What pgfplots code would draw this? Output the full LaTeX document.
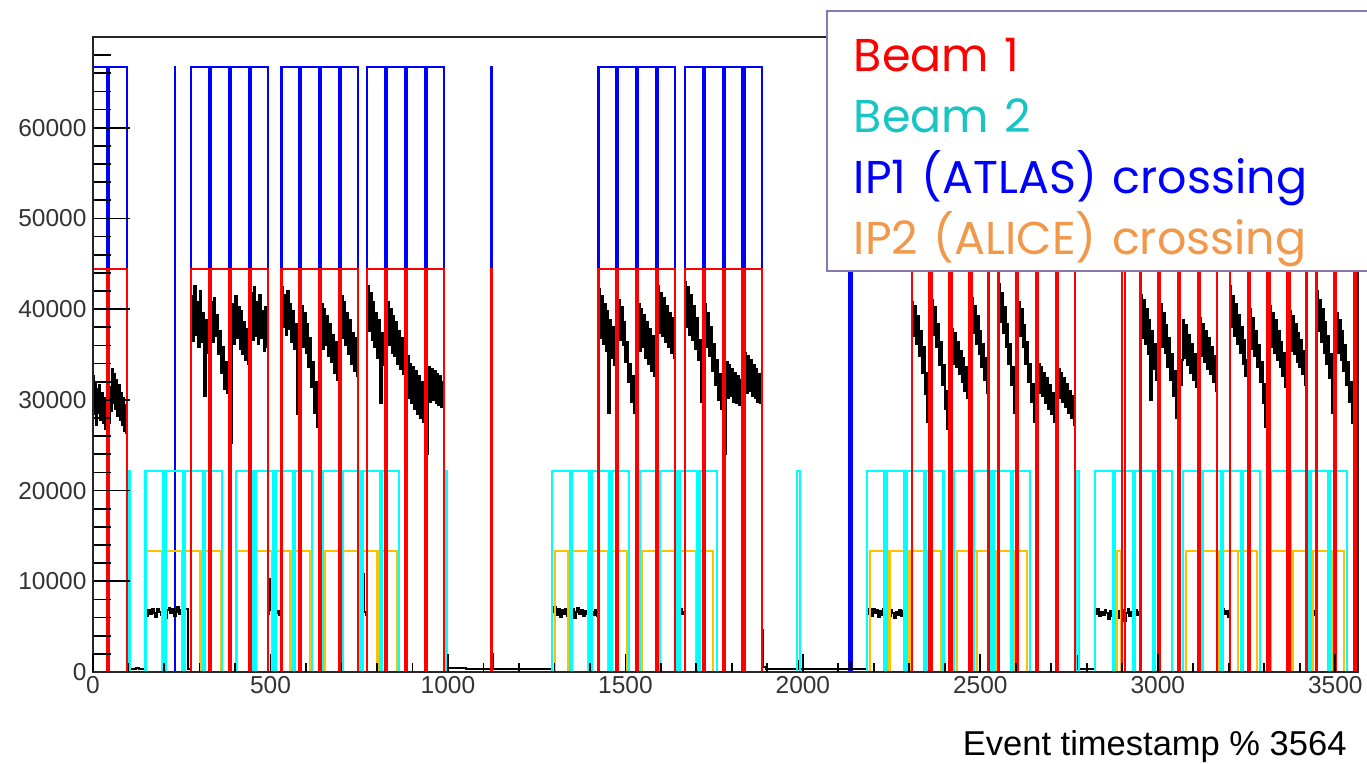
\documentclass[border=0pt]{standalone}
\usepackage{pgfplots}
\pgfplotsset{compat=1.18}
\usepackage{pgfplotstable}
\usepackage{fontspec}
\setmainfont{Liberation Sans}
\newfontfamily\legendfont{Poppins}

\definecolor{beamone}{RGB}{255,0,0}
\definecolor{beamtwo}{RGB}{0,255,255}
\definecolor{ipone}{RGB}{0,0,255}
\definecolor{iptwo}{RGB}{255,192,0}
\definecolor{beamtwotext}{RGB}{24,196,196}
\definecolor{iptwotext}{RGB}{242,152,74}
\definecolor{legendframe}{RGB}{137,120,178}
\definecolor{ticktext}{RGB}{51,51,51}

% Filling patterns (values in thousands; each row starts a constant step)
\pgfplotstableread[row sep=\\]{x y\\
0 44.45\\ 40 0\\ 46 44.45\\ 96 0\\
277 44.45\\ 327 0\\ 333 44.45\\ 383 0\\ 389 44.45\\ 439 0\\ 445 44.45\\ 493 0\\
531 44.45\\ 581 0\\ 587 44.45\\ 637 0\\ 643 44.45\\ 693 0\\ 699 44.45\\ 747 0\\
773 44.45\\ 823 0\\ 829 44.45\\ 879 0\\ 885 44.45\\ 935 0\\ 941 44.45\\ 989 0\\
1122 44.45\\ 1123 0\\
1424 44.45\\ 1474 0\\ 1480 44.45\\ 1530 0\\ 1536 44.45\\ 1586 0\\ 1592 44.45\\ 1640 0\\
1668 44.45\\ 1718 0\\ 1724 44.45\\ 1774 0\\ 1780 44.45\\ 1830 0\\ 1836 44.45\\ 1884 0\\
2307 44.45\\ 2357 0\\ 2363 44.45\\ 2413 0\\ 2419 44.45\\ 2469 0\\ 2475 44.45\\ 2523 0\\
2551 44.45\\ 2601 0\\ 2607 44.45\\ 2657 0\\ 2663 44.45\\ 2713 0\\ 2719 44.45\\ 2767 0\\
2899 44.45\\ 2907 0\\
2951 44.45\\ 3001 0\\ 3007 44.45\\ 3057 0\\ 3063 44.45\\ 3113 0\\ 3119 44.45\\ 3167 0\\
3203 44.45\\ 3253 0\\ 3259 44.45\\ 3309 0\\ 3315 44.45\\ 3365 0\\ 3371 44.45\\ 3419 0\\
3447 44.45\\ 3497 0\\ 3503 44.45\\ 3553 0\\ 3559 44.45\\ 3564 44.45\\
}\beamonetab

\pgfplotstableread[row sep=\\]{x y\\
0 66.7\\ 40 0\\ 46 66.7\\ 96 0\\ 231 66.7\\ 232 0\\
277 66.7\\ 327 0\\ 333 66.7\\ 383 0\\ 389 66.7\\ 439 0\\ 445 66.7\\ 493 0\\
531 66.7\\ 581 0\\ 587 66.7\\ 637 0\\ 643 66.7\\ 693 0\\ 699 66.7\\ 747 0\\
773 66.7\\ 823 0\\ 829 66.7\\ 879 0\\ 885 66.7\\ 935 0\\ 941 66.7\\ 989 0\\
1122 66.7\\ 1123 0\\
1424 66.7\\ 1474 0\\ 1480 66.7\\ 1530 0\\ 1536 66.7\\ 1586 0\\ 1592 66.7\\ 1640 0\\
1668 66.7\\ 1718 0\\ 1724 66.7\\ 1774 0\\ 1780 66.7\\ 1830 0\\ 1836 66.7\\ 1884 0\\
2130 66.7\\ 2137 0\\ 3564 0\\
}\iponetab

\pgfplotstableread[row sep=\\]{x y\\
0 0\\ 103 22.2\\ 104 0\\
148 22.2\\ 198 0\\ 204 22.2\\ 254 0\\ 260 22.2\\ 310 0\\ 316 22.2\\ 364 0\\
402 22.2\\ 452 0\\ 458 22.2\\ 508 0\\ 514 22.2\\ 564 0\\ 570 22.2\\ 618 0\\
647 22.2\\ 697 0\\ 703 22.2\\ 753 0\\ 759 22.2\\ 809 0\\ 815 22.2\\ 863 0\\
996 22.2\\ 997 0\\
1293 22.2\\ 1343 0\\ 1349 22.2\\ 1399 0\\ 1405 22.2\\ 1455 0\\ 1461 22.2\\ 1509 0\\
1541 22.2\\ 1591 0\\ 1597 22.2\\ 1647 0\\ 1653 22.2\\ 1703 0\\ 1709 22.2\\ 1757 0\\
1984 22.2\\ 1992 0\\
2180 22.2\\ 2230 0\\ 2236 22.2\\ 2286 0\\ 2292 22.2\\ 2342 0\\ 2348 22.2\\ 2396 0\\
2425 22.2\\ 2475 0\\ 2481 22.2\\ 2531 0\\ 2537 22.2\\ 2587 0\\ 2593 22.2\\ 2641 0\\
2770 22.2\\ 2778 0\\
2824 22.2\\ 2874 0\\ 2880 22.2\\ 2930 0\\ 2936 22.2\\ 2986 0\\ 2992 22.2\\ 3040 0\\
3072 22.2\\ 3122 0\\ 3128 22.2\\ 3178 0\\ 3184 22.2\\ 3234 0\\ 3240 22.2\\ 3288 0\\
3318 22.2\\ 3368 0\\ 3374 22.2\\ 3424 0\\ 3430 22.2\\ 3480 0\\ 3486 22.2\\ 3534 0\\
3564 0\\
}\beamtwotab

\pgfplotstableread[row sep=\\]{x y\\
0 0\\
150 13.3\\ 194 0\\ 195 13.3\\ 250 0\\ 251 13.3\\ 302 0\\ 303 13.3\\ 362 0\\
405 13.3\\ 448 0\\ 449 13.3\\ 504 0\\ 505 13.3\\ 556 0\\ 557 13.3\\ 612 0\\
654 13.3\\ 695 0\\ 696 13.3\\ 751 0\\ 752 13.3\\ 801 0\\ 802 13.3\\ 856 0\\
1301 13.3\\ 1339 0\\ 1340 13.3\\ 1396 0\\ 1397 13.3\\ 1451 0\\ 1452 13.3\\ 1505 0\\
1546 13.3\\ 1588 0\\ 1589 13.3\\ 1644 0\\ 1645 13.3\\ 1700 0\\ 1701 13.3\\ 1748 0\\
2189 13.3\\ 2244 0\\ 2245 13.3\\ 2300 0\\ 2301 13.3\\ 2352 0\\ 2353 13.3\\ 2390 0\\
2435 13.3\\ 2490 0\\ 2491 13.3\\ 2542 0\\ 2543 13.3\\ 2595 0\\ 2596 13.3\\ 2632 0\\
2886 13.3\\ 2897 0\\
3078 13.3\\ 3120 0\\ 3121 13.3\\ 3172 0\\ 3173 13.3\\ 3226 0\\ 3227 13.3\\ 3280 0\\
3320 13.3\\ 3380 0\\ 3381 13.3\\ 3435 0\\ 3436 13.3\\ 3492 0\\ 3493 13.3\\ 3524 0\\
3564 0\\
}\iptwotab

% Measured event counts per bunch slot (thousands)
\pgfplotstableread[row sep=\\]{x y\\
0 32.6\\ 3 28.4\\ 6 31.8\\ 9 27.2\\ 12 31.2\\ 15 28.6\\ 18 31.6\\ 21 27.8\\ 24 30.8\\ 27 27.4\\
30 30.2\\ 33 26.8\\ 36 29.4\\ 39 25.8\\ 42 24.6\\ 45 27.4\\ 48 31.4\\ 51 28.8\\ 54 33.4\\ 57 29.6\\
60 32.8\\ 63 29.0\\ 66 32.2\\ 69 28.2\\ 72 31.6\\ 75 27.8\\ 78 30.8\\ 81 27.2\\ 84 30.2\\ 87 26.6\\
90 29.4\\ 93 26.4\\ 96 0.3\\ 120 0.4\\ 130 0.3\\
150 6.2\\ 156 6.8\\ 161 6.4\\ 166 7.0\\ 171 6.5\\ 176 6.1\\ 181 6.9\\ 186 6.6\\ 191 6.3\\ 196 6.7\\
203 6.0\\ 208 6.8\\ 213 7.1\\ 218 6.5\\ 223 6.9\\ 228 6.2\\ 233 6.6\\ 238 7.2\\ 243 6.4\\ 248 6.8\\
253 5.9\\ 258 6.9\\ 263 7.0\\ 268 0.3\\
277 41.5\\ 281 36.5\\ 285 42.6\\ 289 37.2\\ 293 40.8\\ 297 35.8\\ 301 42.0\\ 305 36.4\\ 309 39.6\\ 313 30.4\\
317 38.8\\ 321 35.2\\ 325 37.0\\ 329 29.0\\
333 40.8\\ 337 36.4\\ 341 41.2\\ 345 37.0\\ 349 39.4\\ 353 35.0\\ 357 37.6\\ 361 33.0\\ 365 35.8\\ 369 31.2\\
373 34.2\\ 377 30.8\\ 381 33.0\\ 385 26.0\\
389 25.2\\ 393 40.6\\ 397 36.2\\ 401 41.4\\ 405 36.8\\ 409 40.2\\ 413 35.6\\ 417 39.8\\ 421 35.0\\ 425 38.6\\
429 34.4\\ 433 37.8\\ 437 34.0\\ 441 28.0\\
445 41.8\\ 449 36.6\\ 453 42.4\\ 457 37.0\\ 461 40.8\\ 465 36.2\\ 469 41.6\\ 473 36.8\\ 477 39.8\\ 481 35.4\\
485 40.2\\ 489 35.8\\
493 6.4\\ 497 10.2\\ 500 6.8\\ 505 6.2\\ 510 6.9\\ 515 6.5\\ 520 6.7\\ 525 6.3\\
531 42.4\\ 535 38.0\\ 539 41.6\\ 543 37.2\\ 547 42.0\\ 551 37.8\\ 555 40.6\\ 559 36.4\\ 563 39.8\\ 567 35.6\\
571 38.4\\ 575 28.4\\ 579 36.0\\ 583 27.6\\
587 40.4\\ 591 35.8\\ 595 39.6\\ 599 35.2\\ 603 38.4\\ 607 33.6\\ 611 36.8\\ 615 31.4\\ 619 34.2\\ 623 28.6\\
627 32.0\\ 631 27.0\\ 635 29.6\\ 639 24.0\\
643 40.6\\ 647 35.6\\ 651 40.0\\ 655 36.0\\ 659 39.2\\ 663 34.8\\ 667 38.4\\ 671 34.2\\ 675 37.2\\ 679 33.0\\
683 36.4\\ 687 32.2\\ 691 34.6\\ 695 26.0\\
699 41.4\\ 703 36.8\\ 707 40.8\\ 711 36.0\\ 715 39.6\\ 719 35.0\\ 723 38.8\\ 727 34.0\\ 731 37.4\\ 735 33.2\\
739 36.8\\ 743 32.6\\
747 6.4\\ 752 6.9\\ 757 6.2\\ 762 10.8\\ 764 6.6\\ 769 6.3\\
773 42.6\\ 777 37.6\\ 781 41.8\\ 785 36.6\\ 789 40.8\\ 793 35.8\\ 797 39.6\\ 801 34.6\\ 805 38.8\\ 809 29.6\\
813 37.4\\ 817 33.8\\ 821 36.0\\ 825 28.0\\
829 40.8\\ 833 36.0\\ 837 40.0\\ 841 35.2\\ 845 39.2\\ 849 34.8\\ 853 38.6\\ 857 34.0\\ 861 37.6\\ 865 33.4\\
869 36.8\\ 873 32.8\\ 877 35.0\\ 881 26.0\\
885 34.8\\ 889 30.2\\ 893 34.0\\ 897 29.6\\ 901 33.6\\ 905 29.0\\ 909 33.2\\ 913 28.4\\ 917 32.6\\ 921 28.0\\
925 32.0\\ 929 27.6\\ 933 30.6\\ 937 24.0\\
941 24.0\\ 945 33.6\\ 949 29.8\\ 953 33.4\\ 957 30.0\\ 961 33.2\\ 965 29.6\\ 969 32.8\\ 973 29.4\\ 977 32.6\\
981 29.2\\ 985 32.0\\
989 0.5\\ 992 2.2\\ 995 0.4\\ 1050 0.3\\ 1123 2.0\\ 1126 0.3\\ 1200 0.35\\ 1260 0.3\\
1293 6.6\\ 1300 7.2\\ 1305 6.3\\ 1310 6.9\\ 1315 6.1\\ 1320 6.8\\ 1325 6.4\\ 1330 7.0\\ 1335 6.2\\ 1340 6.7\\
1345 6.5\\ 1350 6.9\\ 1355 6.0\\ 1360 6.6\\ 1365 7.1\\ 1370 6.4\\ 1375 6.8\\ 1380 6.2\\ 1385 6.7\\ 1390 6.4\\
1395 6.9\\ 1400 6.1\\ 1405 6.6\\ 1410 6.3\\ 1415 6.8\\ 1420 6.2\\
1424 42.2\\ 1428 36.8\\ 1432 41.4\\ 1436 36.2\\ 1440 40.6\\ 1444 35.4\\ 1448 39.8\\ 1452 28.6\\ 1456 38.8\\ 1460 34.6\\
1464 38.0\\ 1468 33.8\\ 1472 36.4\\ 1476 28.0\\
1480 41.0\\ 1484 36.6\\ 1488 40.2\\ 1492 36.0\\ 1496 38.6\\ 1500 34.2\\ 1504 36.4\\ 1508 32.0\\ 1512 34.0\\ 1516 29.8\\
1520 32.6\\ 1524 28.6\\ 1528 30.8\\ 1532 25.0\\
1536 40.6\\ 1540 35.4\\ 1544 40.0\\ 1548 35.8\\ 1552 39.4\\ 1556 34.6\\ 1560 38.6\\ 1564 34.0\\ 1568 37.8\\ 1572 33.2\\
1576 37.0\\ 1580 32.6\\ 1584 35.0\\ 1588 27.0\\
1592 42.6\\ 1596 37.4\\ 1600 41.8\\ 1604 37.0\\ 1608 41.2\\ 1612 36.4\\ 1616 40.4\\ 1620 35.8\\ 1624 39.6\\ 1628 35.2\\
1632 39.0\\ 1636 34.6\\
1640 6.3\\ 1645 6.8\\ 1650 6.2\\ 1655 6.9\\ 1660 6.4\\ 1665 6.6\\
1668 43.0\\ 1672 38.0\\ 1676 42.4\\ 1680 37.2\\ 1684 41.6\\ 1688 36.6\\ 1692 40.4\\ 1696 35.6\\ 1700 39.0\\ 1704 34.4\\
1708 36.6\\ 1712 29.8\\ 1716 33.0\\ 1720 25.0\\
1724 40.6\\ 1728 35.8\\ 1732 39.6\\ 1736 34.8\\ 1740 38.0\\ 1744 33.2\\ 1748 36.2\\ 1752 31.6\\ 1756 34.4\\ 1760 30.0\\
1764 32.8\\ 1768 29.0\\ 1772 31.0\\ 1776 24.6\\
1780 24.0\\ 1784 34.2\\ 1788 30.2\\ 1792 33.8\\ 1796 30.4\\ 1800 33.4\\ 1804 29.8\\ 1808 33.0\\ 1812 29.6\\ 1816 32.6\\
1820 29.4\\ 1824 32.2\\ 1828 30.0\\ 1832 25.6\\
1836 35.2\\ 1840 30.8\\ 1844 34.8\\ 1848 31.0\\ 1852 34.4\\ 1856 30.4\\ 1860 33.8\\ 1864 30.2\\ 1868 33.4\\ 1872 29.8\\
1876 32.8\\ 1880 29.6\\
1884 4.6\\ 1887 0.6\\ 1895 0.3\\ 1987 1.2\\ 1990 0.3\\ 2132 1.0\\ 2135 0.3\\
2180 6.4\\ 2187 6.9\\ 2192 6.2\\ 2197 7.0\\ 2202 6.5\\ 2207 6.8\\ 2212 6.1\\ 2217 6.7\\ 2222 6.3\\ 2227 6.9\\
2232 6.4\\ 2237 6.7\\ 2242 6.2\\ 2247 6.8\\ 2252 6.5\\ 2257 6.0\\ 2262 6.6\\ 2267 6.3\\ 2272 6.8\\ 2277 6.2\\
2282 6.7\\ 2287 6.4\\ 2292 6.9\\ 2297 6.3\\ 2302 6.6\\
2307 40.8\\ 2311 37.0\\ 2315 40.4\\ 2319 36.2\\ 2323 39.2\\ 2327 34.8\\ 2331 37.6\\ 2335 33.0\\ 2339 35.8\\ 2343 30.6\\
2347 33.0\\ 2351 27.6\\ 2355 30.4\\ 2359 26.0\\
2363 41.0\\ 2367 37.2\\ 2371 40.2\\ 2375 35.8\\ 2379 38.4\\ 2383 33.8\\ 2387 36.4\\ 2391 31.6\\ 2395 33.8\\ 2399 29.0\\
2403 31.0\\ 2407 26.8\\ 2411 28.6\\ 2415 24.0\\
2419 37.8\\ 2423 34.0\\ 2427 37.4\\ 2431 33.6\\ 2435 36.4\\ 2439 32.8\\ 2443 35.4\\ 2447 32.0\\ 2451 34.6\\ 2455 31.0\\
2459 33.6\\ 2463 30.2\\ 2467 32.4\\ 2471 26.0\\
2475 41.2\\ 2479 37.4\\ 2483 40.4\\ 2487 36.2\\ 2491 39.2\\ 2495 35.0\\ 2499 37.6\\ 2503 33.6\\ 2507 36.2\\ 2511 32.2\\
2515 34.6\\ 2519 30.8\\
2523 6.4\\ 2528 6.9\\ 2533 6.3\\ 2538 6.7\\ 2543 6.2\\ 2548 6.6\\
2551 42.8\\ 2555 38.6\\ 2559 41.8\\ 2563 37.4\\ 2567 40.2\\ 2571 35.8\\ 2575 38.4\\ 2579 34.0\\ 2583 36.2\\ 2587 31.6\\
2591 33.6\\ 2595 28.6\\ 2599 30.8\\ 2603 25.4\\
2607 40.8\\ 2611 37.0\\ 2615 40.0\\ 2619 35.8\\ 2623 38.2\\ 2627 34.0\\ 2631 36.4\\ 2635 32.0\\ 2639 34.0\\ 2643 29.8\\
2647 31.8\\ 2651 27.6\\ 2655 30.0\\ 2659 21.6\\
2663 34.0\\ 2667 30.8\\ 2671 33.6\\ 2675 30.4\\ 2679 33.0\\ 2683 29.6\\ 2687 32.4\\ 2691 29.0\\ 2695 31.6\\ 2699 28.4\\
2703 30.8\\ 2707 27.6\\ 2711 29.8\\ 2715 23.0\\
2719 33.4\\ 2723 30.2\\ 2727 33.0\\ 2731 29.8\\ 2735 32.4\\ 2739 29.2\\ 2743 31.8\\ 2747 28.6\\ 2751 31.0\\ 2755 28.0\\
2759 30.4\\ 2763 27.2\\
2767 0.6\\ 2770 1.8\\ 2773 0.3\\
2824 6.4\\ 2830 6.9\\ 2835 6.2\\ 2840 6.6\\ 2845 6.3\\ 2850 6.8\\ 2855 6.5\\ 2860 5.8\\ 2865 6.7\\ 2870 6.2\\
2875 6.9\\ 2880 6.4\\ 2885 6.0\\ 2890 6.7\\ 2895 6.3\\ 2900 6.8\\ 2905 5.6\\ 2910 6.5\\ 2915 6.9\\ 2920 6.2\\
2925 6.6\\ 2930 6.0\\ 2935 6.8\\ 2940 6.3\\ 2945 6.6\\
2951 41.6\\ 2955 36.8\\ 2959 41.0\\ 2963 36.2\\ 2967 40.0\\ 2971 35.0\\ 2975 38.8\\ 2979 30.0\\ 2983 37.6\\ 2987 33.4\\
2991 36.2\\ 2995 32.2\\ 2999 34.0\\ 3003 28.0\\
3007 40.6\\ 3011 35.8\\ 3015 39.6\\ 3019 35.2\\ 3023 38.2\\ 3027 33.6\\ 3031 36.8\\ 3035 32.2\\ 3039 35.0\\ 3043 30.4\\
3047 33.2\\ 3051 28.0\\ 3055 30.8\\ 3059 27.0\\
3063 31.6\\ 3067 34.4\\ 3071 38.8\\ 3075 34.6\\ 3079 38.2\\ 3083 33.8\\ 3087 37.2\\ 3091 33.0\\ 3095 36.2\\ 3099 32.2\\
3103 35.0\\ 3107 31.4\\ 3111 33.4\\ 3115 28.2\\
3119 39.0\\ 3123 34.8\\ 3127 38.4\\ 3131 34.2\\ 3135 37.6\\ 3139 33.4\\ 3143 36.8\\ 3147 32.8\\ 3151 35.8\\ 3155 32.0\\
3159 34.8\\ 3163 31.0\\
3167 6.3\\ 3172 6.8\\ 3177 6.2\\ 3182 6.9\\ 3187 6.4\\ 3192 6.7\\ 3197 6.1\\
3203 42.6\\ 3207 38.0\\ 3211 41.4\\ 3215 37.0\\ 3219 40.6\\ 3223 36.2\\ 3227 39.4\\ 3231 35.2\\ 3235 38.0\\ 3239 34.0\\
3243 36.6\\ 3247 32.6\\ 3251 34.4\\ 3255 28.6\\
3259 40.0\\ 3263 35.6\\ 3267 39.0\\ 3271 34.8\\ 3275 37.6\\ 3279 33.6\\ 3283 36.0\\ 3287 32.0\\ 3291 34.2\\ 3295 29.6\\
3299 31.8\\ 3303 27.0\\ 3307 29.0\\ 3311 25.8\\
3315 40.4\\ 3319 35.8\\ 3323 39.6\\ 3327 35.2\\ 3331 38.8\\ 3335 34.4\\ 3339 37.6\\ 3343 33.6\\ 3347 36.4\\ 3351 32.6\\
3355 35.2\\ 3359 31.4\\ 3363 33.6\\ 3367 28.0\\
3371 39.8\\ 3375 35.4\\ 3379 39.2\\ 3383 35.0\\ 3387 38.4\\ 3391 34.2\\ 3395 37.4\\ 3399 33.6\\ 3403 36.6\\ 3407 32.8\\
3411 35.4\\ 3415 31.6\\
3419 6.4\\ 3424 6.9\\ 3429 6.2\\ 3434 6.7\\ 3439 6.3\\ 3443 6.6\\
3447 42.0\\ 3451 37.6\\ 3455 41.0\\ 3459 36.4\\ 3463 40.0\\ 3467 35.2\\ 3471 38.6\\ 3475 34.0\\ 3479 37.0\\ 3483 32.4\\
3487 35.0\\ 3491 28.6\\ 3495 32.0\\ 3499 27.0\\
3503 39.6\\ 3507 35.2\\ 3511 38.8\\ 3515 34.4\\ 3519 37.6\\ 3523 33.2\\ 3527 36.0\\ 3531 31.6\\ 3535 34.2\\ 3539 29.8\\
3543 32.0\\ 3547 27.4\\ 3551 29.4\\ 3555 25.8\\
3559 34.2\\ 3562 29.6\\ 3564 32.0\\
}\tracetab

\begin{document}
\begin{tikzpicture}
\useasboundingbox (0,0) rectangle (1367pt,763pt);
\begin{axis}[
  at={(93pt,91pt)}, anchor=south west,
  scale only axis, width=1265pt, height=635pt,
  xmin=0, xmax=3564, ymin=0, ymax=70,
  xtick=\empty,
  ytick={0,10,...,60},
  yticklabels={0,10000,20000,30000,40000,50000,60000},
  minor ytick={2,4,...,68},
  tick pos=left, tick align=inside,
  major tick length=37pt, minor tick length=18pt,
  tick style={draw=black, line width=1.8pt},
  axis line style={draw=black!85, line width=2pt},
  yticklabel style={font=\fontsize{24.5pt}{24.5pt}\selectfont, text=ticktext, xshift=-3pt},
  axis on top,
  legend style={
    at={(0.5794,1.0425)}, anchor=north west,
    draw=legendframe, line width=2pt, fill=white,
    inner xsep=27pt, inner ysep=15pt, row sep=14pt, column sep=0pt,
    font=\fontsize{46pt}{56pt}\legendfont,
    nodes={text height=43pt, text depth=0pt, inner ysep=2pt, inner xsep=0pt},
    cells={anchor=west},
  },
  legend cell align=left,
]
\addlegendimage{empty legend}
\addlegendentry[text=beamone, text width=540pt]{Beam 1}
\addlegendimage{empty legend}
\addlegendentry[text=beamtwotext, text width=540pt]{Beam 2}
\addlegendimage{empty legend}
\addlegendentry[text=ipone, text width=540pt]{IP1 (ATLAS) crossing}
\addlegendimage{empty legend}
\addlegendentry[text=iptwotext, text width=540pt]{IP2 (ALICE) crossing}

\addplot[ipone, line width=2.2pt, const plot, forget plot] table {\iponetab};
\addplot[black, line width=2pt, const plot, forget plot] table {\tracetab};
\addplot[iptwo, line width=2pt, const plot, forget plot] table {\iptwotab};
\addplot[beamtwo, line width=2.2pt, const plot, forget plot] table {\beamtwotab};
\addplot[beamone, line width=2.2pt, const plot, forget plot] table {\beamonetab};
\end{axis}

% x ticks, tick labels and axis title
\begin{axis}[
  at={(93pt,91pt)}, anchor=south west,
  scale only axis, width=1265pt, height=635pt,
  xmin=0, xmax=3564, ymin=0, ymax=70,
  hide y axis,
  axis line style={draw=none},
  xtick={0,500,...,3500},
  xticklabels={0,500,1000,1500,2000,2500,3000,3500},
  minor xtick={100,200,...,3500},
  tick pos=left, tick align=inside,
  major tick length=18pt, minor tick length=9pt,
  tick style={draw=black, line width=1.8pt},
  xticklabel style={font=\fontsize{24.5pt}{24.5pt}\selectfont, text=ticktext, yshift=-1pt},
  xlabel={Event timestamp \% 3564},
  xlabel style={at={(0.9937,-0.1307)}, anchor=base east,
    font=\fontsize{34.5pt}{34.5pt}\selectfont, text=black},
]
\end{axis}
\end{tikzpicture}
\end{document}
